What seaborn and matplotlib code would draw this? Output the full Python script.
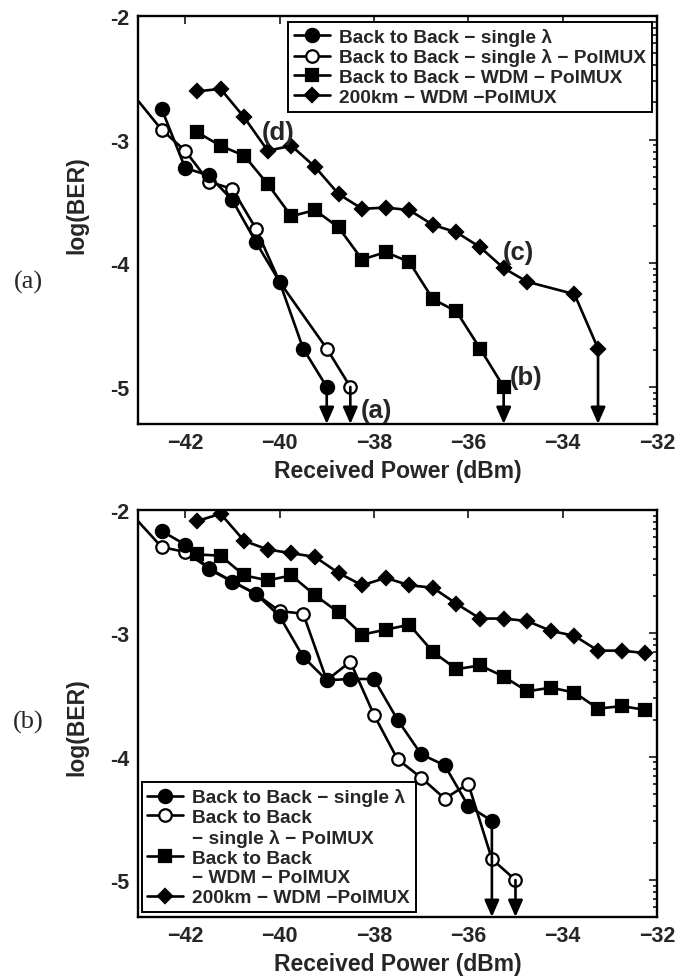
import numpy as np
import matplotlib
matplotlib.use("Agg")
import matplotlib.pyplot as plt
from matplotlib.lines import Line2D
import seaborn as sns

# ---- data ----
# (a) top panel
a_fill_x = [-42.5, -42.0, -41.5, -41.0, -40.5, -40.0, -39.5, -39.0]
a_fill_y = [-2.75, -3.23, -3.29, -3.49, -3.83, -4.15, -4.69, -5.0]
a_open_x = [-43.5, -42.5, -42.0, -41.5, -41.0, -40.5, -40.0, -39.0, -38.5]
a_open_y = [-2.45, -2.92, -3.09, -3.34, -3.40, -3.72, -4.15, -4.69, -5.0]
a_wdm_x = [-41.75, -41.25, -40.75, -40.25, -39.75, -39.25, -38.75, -38.25, -37.75,
           -37.25, -36.75, -36.25, -35.75, -35.25]
a_wdm_y = [-2.94, -3.05, -3.13, -3.36, -3.62, -3.57, -3.71, -3.97, -3.91,
           -3.99, -4.29, -4.39, -4.69, -5.0]
a_200_x = [-41.75, -41.25, -40.75, -40.25, -39.75, -39.25, -38.75, -38.25, -37.75,
           -37.25, -36.75, -36.25, -35.75, -35.25, -34.75, -33.75, -33.25]
a_200_y = [-2.61, -2.59, -2.82, -3.09, -3.05, -3.22, -3.44, -3.56, -3.55,
           -3.57, -3.69, -3.75, -3.87, -4.04, -4.15, -4.25, -4.69]

# (b) bottom panel
b_fill_x = [-42.5, -42.0, -41.5, -41.0, -40.5, -40.0, -39.5, -39.0, -38.5, -38.0,
            -37.5, -37.0, -36.5, -36.0, -35.5]
b_fill_y = [-2.17, -2.28, -2.48, -2.58, -2.68, -2.86, -3.19, -3.38, -3.37, -3.37,
            -3.70, -3.98, -4.07, -4.40, -4.52]
b_open_x = [-43.5, -42.5, -42.0, -41.5, -41.0, -40.5, -40.0, -39.5, -39.0, -38.5,
            -38.0, -37.5, -37.0, -36.5, -36.0, -35.5, -35.0]
b_open_y = [-1.88, -2.30, -2.34, -2.47, -2.58, -2.68, -2.82, -2.84, -3.38, -3.23,
            -3.66, -4.02, -4.17, -4.34, -4.22, -4.83, -5.0]
b_wdm_x = [-41.75, -41.25, -40.75, -40.25, -39.75, -39.25, -38.75, -38.25, -37.75, -37.25,
           -36.75, -36.25, -35.75, -35.25, -34.75, -34.25, -33.75, -33.25, -32.75, -32.25]
b_wdm_y = [-2.36, -2.37, -2.53, -2.57, -2.53, -2.69, -2.83, -3.01, -2.97, -2.93,
           -3.15, -3.29, -3.26, -3.35, -3.47, -3.44, -3.48, -3.61, -3.59, -3.62]
b_200_x = list(b_wdm_x)
b_200_y = [-2.09, -2.03, -2.25, -2.32, -2.35, -2.38, -2.51, -2.61, -2.55, -2.61,
           -2.63, -2.76, -2.88, -2.88, -2.90, -2.98, -3.02, -3.14, -3.14, -3.16]

labels_a = ["Back to Back \u2212 single \u03bb",
            "Back to Back \u2212 single \u03bb \u2212 PolMUX",
            "Back to Back \u2212 WDM \u2212 PolMUX",
            "200km \u2212 WDM \u2212PolMUX"]
labels_b = ["Back to Back \u2212 single \u03bb",
            "Back to Back",
            "\u2212 single \u03bb \u2212 PolMUX",
            "Back to Back",
            "\u2212 WDM \u2212 PolMUX",
            "200km \u2212 WDM \u2212PolMUX"]

x_ticks = [-42, -40, -38, -36, -34, -32]
y_ticks = [-2, -3, -4, -5]
y_tick_labels = ["-2", "-3", "-4", "-5"]
xlim = (-43, -32)
ylim = (-5.3, -2)

sns.set_theme(style="white")
plt.rcParams["font.family"] = ["Liberation Sans", "DejaVu Sans"]
plt.rcParams["font.weight"] = "bold"
plt.rcParams["axes.labelweight"] = "bold"

LW = 1.9
styles = {
    "fill": dict(marker="o", markersize=9.5, markerfacecolor="black"),
    "open": dict(marker="o", markersize=9, markerfacecolor="white"),
    "wdm": dict(marker="s", markersize=8, markerfacecolor="black"),
    "200": dict(marker="D", markersize=7.5, markerfacecolor="black"),
}


def draw_series(ax, x, y, key):
    sns.lineplot(x=x, y=y, ax=ax, color="black", linewidth=LW, sort=False,
                 estimator=None, markeredgecolor="black", markeredgewidth=1.6,
                 **styles[key])


def draw_arrow(ax, x, y):
    ax.annotate("", xy=(x, ylim[0]), xytext=(x, y),
                arrowprops=dict(arrowstyle="-|>,head_length=0.5,head_width=0.22",
                                color="black", lw=LW, shrinkA=0, shrinkB=0,
                                mutation_scale=20))


def style_axes(ax):
    ax.set_xlim(*xlim)
    ax.set_ylim(*ylim)
    ax.set_xticks(x_ticks)
    ax.set_yticks(y_ticks)
    ax.set_yticklabels(y_tick_labels)
    minor = [n + np.log10(k) for n in range(-6, -1) for k in range(2, 10)]
    minor = [m for m in minor if ylim[0] < m < ylim[1]]
    ax.set_yticks(minor, minor=True)
    ax.tick_params(axis="both", which="both", direction="in", top=True, right=True,
                   labelsize=15.5, width=1.3)
    ax.tick_params(axis="both", which="major", length=6, pad=6)
    ax.tick_params(axis="y", which="minor", length=3)
    for s in ax.spines.values():
        s.set_linewidth(1.7)
        s.set_color("black")
    ax.set_xlabel("Received Power (dBm)", fontsize=16.5, fontweight="bold", labelpad=4)
    ax.set_ylabel("log(BER)", fontsize=16.5, fontweight="bold")
    ax.grid(False)


def handle(key):
    return Line2D([], [], color="black", linewidth=LW, markeredgecolor="black",
                  markeredgewidth=1.6, **styles[key])


blank = Line2D([], [], color="none", linewidth=0)
leg_kw = dict(frameon=True, fancybox=False, edgecolor="black", framealpha=1,
              borderpad=0.3, handlelength=1.85, handletextpad=0.5,
              labelspacing=0.13, borderaxespad=0,
              prop=dict(family="Liberation Sans", weight="bold", size=13.8))

fig = plt.figure(figsize=(6.98, 9.79), dpi=100)
ax1 = fig.add_axes([0.1977, 0.5659, 0.7436, 0.4168])
ax2 = fig.add_axes([0.1977, 0.0623, 0.7436, 0.4157])

# ---- (a) ----
draw_series(ax1, a_open_x, a_open_y, "open")
draw_series(ax1, a_fill_x, a_fill_y, "fill")
draw_series(ax1, a_wdm_x, a_wdm_y, "wdm")
draw_series(ax1, a_200_x, a_200_y, "200")
for xs, ys in [(a_fill_x, a_fill_y), (a_open_x, a_open_y),
               (a_wdm_x, a_wdm_y), (a_200_x, a_200_y)]:
    draw_arrow(ax1, xs[-1], ys[-1])
style_axes(ax1)
ax1.yaxis.set_label_coords(-0.096, 0.54)
for txt, tx, ty in [("(a)", -37.95, -5.19), ("(b)", -34.77, -4.92),
                    ("(c)", -34.93, -3.91), ("(d)", -40.02, -2.94)]:
    ax1.text(tx, ty, txt, fontsize=18.5, fontweight="bold", ha="center", va="center")
leg1 = ax1.legend(handles=[handle("fill"), handle("open"), handle("wdm"), handle("200")],
                  labels=labels_a, loc="upper right", bbox_to_anchor=(0.99, 0.985),
                  **leg_kw)
leg1.get_frame().set_linewidth(1.4)

# ---- (b) ----
draw_series(ax2, b_open_x, b_open_y, "open")
draw_series(ax2, b_fill_x, b_fill_y, "fill")
draw_series(ax2, b_wdm_x, b_wdm_y, "wdm")
draw_series(ax2, b_200_x, b_200_y, "200")
for xs, ys in [(b_fill_x, b_fill_y), (b_open_x, b_open_y)]:
    draw_arrow(ax2, xs[-1], ys[-1])
style_axes(ax2)
ax2.yaxis.set_label_coords(-0.096, 0.47)
leg2 = ax2.legend(handles=[handle("fill"), handle("open"), blank, handle("wdm"), blank,
                           handle("200")],
                  labels=labels_b, loc="lower left", bbox_to_anchor=(0.007, 0.012),
                  **leg_kw)
leg2.get_frame().set_linewidth(1.4)

fig.text(28 / 698, 1 - 282 / 979, "(a)", family="Liberation Serif", fontweight="normal",
         fontsize=19, ha="center", va="center")
fig.text(28 / 698, 1 - 722 / 979, "(b)", family="Liberation Serif", fontweight="normal",
         fontsize=19, ha="center", va="center")

fig.savefig("out.png", dpi=100)
